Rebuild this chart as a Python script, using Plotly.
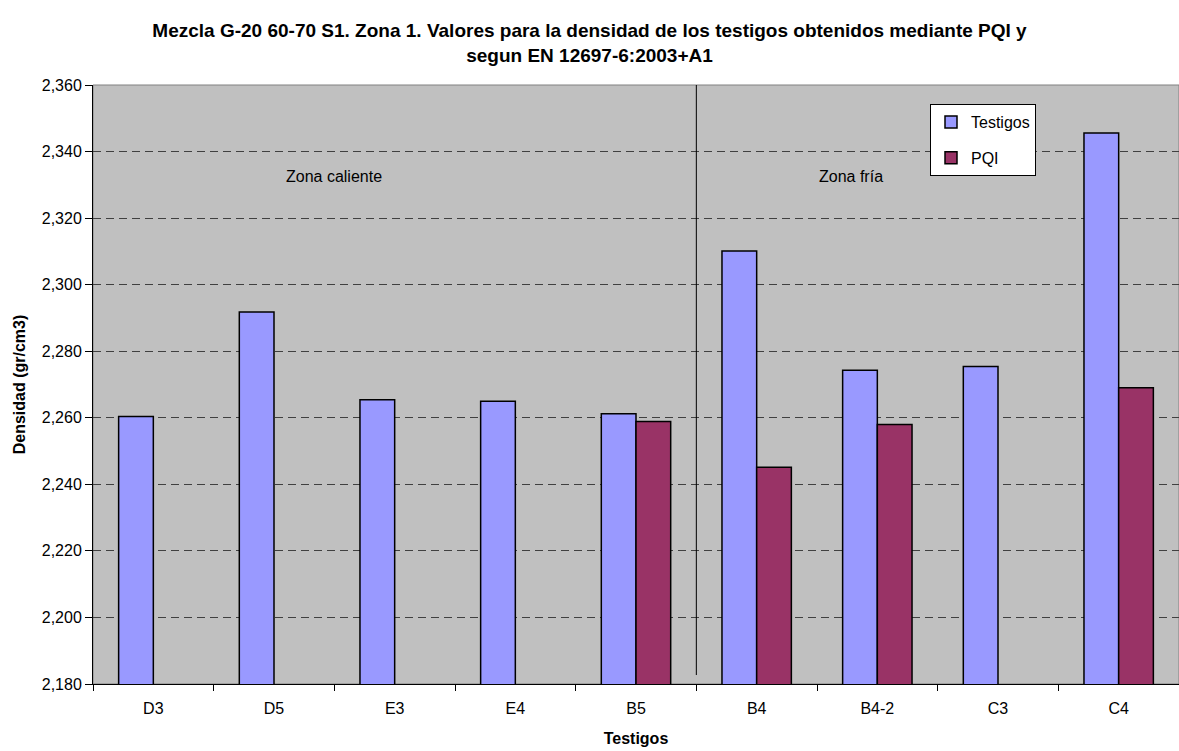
import plotly.graph_objects as go

# Core samples and their densities (g/cm3)
categorias = ["D3", "D5", "E3", "E4", "B5", "B4", "B4-2", "C3", "C4"]
densidad_testigos = [2.2604, 2.2918, 2.2654, 2.2650, 2.2612, 2.3101, 2.2743, 2.2754, 2.3456]
densidad_pqi = [None, None, None, None, 2.2589, 2.2451, 2.2580, None, 2.2690]

# Zone labels and the boundary between the hot and cold zones
zonas = ["Zona caliente", "Zona fría"]
zona_x = [1.5, 5.78]
frontera_zonas = 4.5

y_min, y_max = 2.180, 2.360

FONT = "Arial, Liberation Sans, sans-serif"

fig = go.Figure()
fig.add_trace(go.Bar(
    name="Testigos", x=categorias, y=densidad_testigos,
    marker=dict(color="#9999FF", line=dict(color="black", width=1.5)),
    legendgroup="t",
))
fig.add_trace(go.Bar(
    name="PQI", x=categorias, y=densidad_pqi,
    marker=dict(color="#993366", line=dict(color="black", width=1.5)),
    legendgroup="p",
))

# Plot-area frame
fig.add_shape(type="rect", xref="paper", yref="paper", x0=0, x1=1, y0=0, y1=1,
              line=dict(color="#808080", width=1), layer="below")

# Divider between zones
fig.add_shape(type="line", xref="x", yref="y", x0=frontera_zonas, x1=frontera_zonas,
              y0=2.1827, y1=y_max, line=dict(color="black", width=1))

for texto, xc in zip(zonas, zona_x):
    fig.add_annotation(x=xc, y=2.3325, xref="x", yref="y", text=texto, showarrow=False,
                       font=dict(family=FONT, size=16, color="black"))

fig.update_layout(
    width=1179, height=751,
    margin=dict(l=93, r=0, t=85, b=67),
    paper_bgcolor="white", plot_bgcolor="#C0C0C0",
    separators=",.",
    barmode="group", bargap=0.425, bargroupgap=0,
    title=dict(
        text="<b>Mezcla G-20 60-70 S1. Zona 1. Valores para la densidad de los testigos obtenidos mediante PQI y<br>segun EN 12697-6:2003+A1</b>",
        x=0.5, xref="container", xanchor="center",
        y=1 - 37 / 751, yref="container", yanchor="top",
        font=dict(family=FONT, size=19, color="black"),
    ),
    font=dict(family=FONT, size=16, color="black"),
    legend=dict(
        x=(930 - 93) / 1086, y=(684 - 104) / 599, xanchor="left", yanchor="top",
        bgcolor="white", bordercolor="black", borderwidth=1,
        font=dict(family=FONT, size=16, color="black"),
        traceorder="grouped", tracegroupgap=12,
        itemwidth=30,
    ),
    xaxis=dict(
        type="category", tickson="boundaries", ticks="outside", ticklen=6,
        tickcolor="black", showline=True, linecolor="black", linewidth=1,
        showgrid=False, ticklabelstandoff=10,
        title=dict(text="<b>Testigos</b>", font=dict(family=FONT, size=16), standoff=16),
        tickfont=dict(family=FONT, size=16),
    ),
    yaxis=dict(
        range=[y_min, y_max], dtick=0.02, tick0=y_min, tickformat=".3f",
        ticks="outside", ticklen=7, tickcolor="black",
        showline=True, linecolor="black", linewidth=1,
        showgrid=True, gridcolor="#404040", gridwidth=1, griddash="8px,5px",
        zeroline=False,
        title=dict(text="<b>Densidad (gr/cm3)</b>", font=dict(family=FONT, size=16), standoff=12),
        tickfont=dict(family=FONT, size=16),
    ),
)

fig.write_html("out.html")
